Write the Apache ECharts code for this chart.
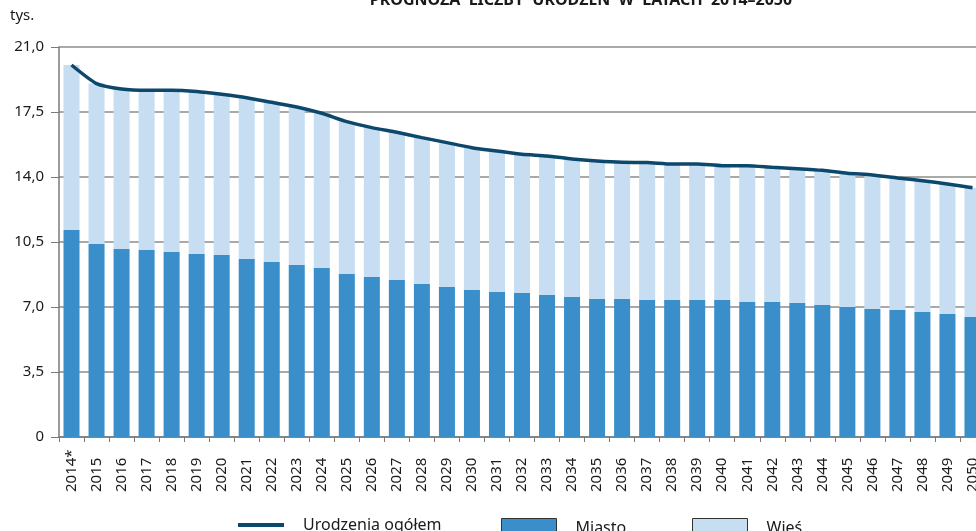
<!DOCTYPE html>
<html>
<head>
<meta charset="utf-8">
<script src="https://cdn.jsdelivr.net/npm/echarts@6/dist/echarts.min.js"></script>
<style>
  html, body { margin: 0; padding: 0; background: #fff; }
  #chart { width: 976px; height: 531px; }
</style>
</head>
<body>
<div id="chart"></div>
<script>
// prognoza urodzen - slupki miasto/wies + linia ogolem

const years = ['2014*', '2015', '2016', '2017', '2018', '2019', '2020', '2021', '2022', '2023',
  '2024', '2025', '2026', '2027', '2028', '2029', '2030', '2031', '2032', '2033',
  '2034', '2035', '2036', '2037', '2038', '2039', '2040', '2041', '2042', '2043',
  '2044', '2045', '2046', '2047', '2048', '2049', '2050'];

const miasto = [11.15, 10.39, 10.12, 10.07, 9.97, 9.85, 9.80, 9.59, 9.42, 9.26,
  9.10, 8.78, 8.62, 8.45, 8.24, 8.08, 7.92, 7.81, 7.75, 7.65,
  7.54, 7.43, 7.43, 7.38, 7.38, 7.38, 7.38, 7.27, 7.27, 7.22,
  7.11, 7.00, 6.89, 6.84, 6.73, 6.62, 6.46];

const wies = [8.88, 8.64, 8.62, 8.60, 8.70, 8.75, 8.65, 8.68, 8.60, 8.51,
  8.33, 8.20, 8.04, 7.96, 7.88, 7.77, 7.66, 7.59, 7.47, 7.48,
  7.43, 7.43, 7.36, 7.40, 7.32, 7.32, 7.23, 7.34, 7.25, 7.23,
  7.25, 7.20, 7.22, 7.11, 7.07, 7.00, 6.96];

const ogolem = [20.03, 19.03, 18.74, 18.67, 18.67, 18.60, 18.45, 18.27, 18.02, 17.77,
  17.43, 16.98, 16.66, 16.41, 16.12, 15.85, 15.58, 15.40, 15.22, 15.13,
  14.97, 14.86, 14.79, 14.78, 14.70, 14.70, 14.61, 14.61, 14.52, 14.45,
  14.36, 14.20, 14.11, 13.95, 13.80, 13.62, 13.42];

const FONT = 'Noto Sans';
const txt = '#1a1a1a';

const chart = echarts.init(document.getElementById('chart'));

const legendText = { fontFamily: FONT, fontSize: 16, color: txt, padding: [0, 0, 6, 14] };

const option = {
  animation: false,
  title: {
    text: 'PROGNOZA  LICZBY  URODZEŃ  W  LATACH  2014–2050',
    left: 576,
    textAlign: 'center',
    top: -13,
    textStyle: { fontFamily: FONT, fontSize: 16, fontWeight: 'bold', color: txt }
  },
  graphic: [{
    type: 'text',
    left: 10,
    top: 8,
    style: { text: 'tys.', font: '15px "Noto Sans"', fill: txt }
  }],
  legend: [
    {
      left: 233, top: 512,
      data: [{ name: 'Urodzenia ogółem', icon: 'rect' }],
      itemWidth: 46, itemHeight: 4,
      textStyle: legendText
    },
    {
      left: 496, top: 513,
      data: [{ name: 'Miasto', icon: 'rect' }],
      itemWidth: 55, itemHeight: 20,
      itemStyle: { borderColor: '#333', borderWidth: 1 },
      textStyle: legendText
    },
    {
      left: 687, top: 513,
      data: [{ name: 'Wieś', icon: 'rect' }],
      itemWidth: 55, itemHeight: 20,
      itemStyle: { borderColor: '#333', borderWidth: 1 },
      textStyle: legendText
    }
  ],
  grid: { left: 59, top: 47, width: 926, height: 390, containLabel: false, outerBoundsMode: 'none' },
  xAxis: {
    type: 'category',
    data: years,
    axisLine: { lineStyle: { color: '#7a7a7a', width: 1.5 } },
    axisTick: { show: true, length: 5, lineStyle: { color: '#7a7a7a' } },
    axisLabel: {
      rotate: 90,
      align: 'left',
      margin: 55,
      interval: 0,
      fontFamily: FONT,
      fontSize: 15,
      color: txt
    }
  },
  yAxis: {
    type: 'value',
    min: 0,
    max: 21,
    interval: 3.5,
    axisLine: { show: true, lineStyle: { color: '#7a7a7a', width: 1.5 } },
    axisTick: { show: true, length: 8, lineStyle: { color: '#7a7a7a' } },
    splitLine: { lineStyle: { color: '#8c8c8c', width: 1.5 } },
    axisLabel: {
      margin: 15,
      fontFamily: FONT,
      fontSize: 15,
      color: txt,
      formatter: v => (v === 0 ? '0' : v.toFixed(1).replace('.', ','))
    }
  },
  series: [
    {
      name: 'Miasto',
      type: 'bar',
      stack: 'u',
      data: miasto,
      barWidth: '64%',
      itemStyle: { color: '#3a8fca' }
    },
    {
      name: 'Wieś',
      type: 'bar',
      stack: 'u',
      data: wies,
      barWidth: '64%',
      itemStyle: { color: '#c6ddf2' }
    },
    {
      name: 'Urodzenia ogółem',
      type: 'line',
      data: ogolem,
      smooth: 0.2,
      showSymbol: false,
      lineStyle: { color: '#0c486c', width: 3.5 },
      itemStyle: { color: '#0c486c' },
      z: 5
    }
  ]
};

chart.setOption(option);
</script>
</body>
</html>
